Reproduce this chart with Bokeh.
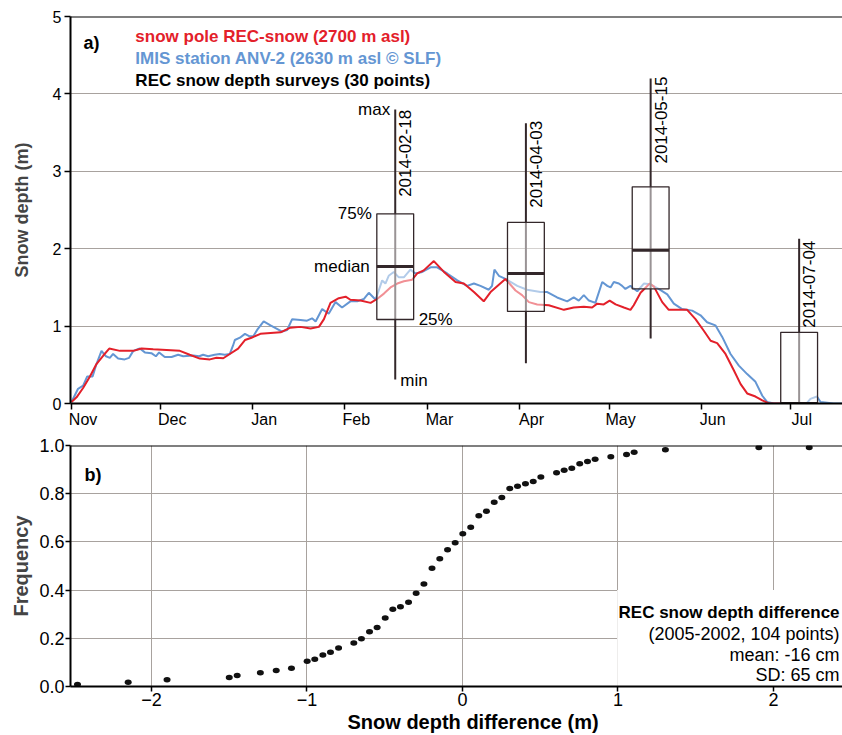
import math
import pandas as pd
from bokeh.plotting import figure
from bokeh.models import (Range1d, FixedTicker, Label, Span, NumeralTickFormatter,
                          LinearAxis, Title)
from bokeh.layouts import column
from bokeh.embed import file_html
from bokeh.resources import INLINE

FONT = "Liberation Sans"
DARK = "#33272a"
RED = "#e3202a"
BLUE = "#6496d3"
GRID = "#a8a29e"

# ---------------- data: panel a ----------------
season_start = "2013-11-01"
month_labels = ["Nov", "Dec", "Jan", "Feb", "Mar", "Apr", "May", "Jun", "Jul"]
month_starts = ["2013-11-01", "2013-12-01", "2014-01-01", "2014-02-01", "2014-03-01",
                "2014-04-01", "2014-05-01", "2014-06-01", "2014-07-01"]

# snow pole REC-snow (days since 2013-11-01, depth m)
red_day = [0, 1.7, 3.9, 6.2, 8.4, 10.7, 12.7, 16.3, 20.8, 23.6, 27.5, 32, 36.5, 39.8, 43.2,
           46.6, 48.8, 51.1, 53.3, 56.1, 58.4, 60.6, 63.6, 67, 70.4, 73.7, 77.1, 80.5, 83.3,
           85, 87.2, 90, 92.3, 93.9, 97.3, 100.7, 102.9, 105.2, 107.4, 109.7, 111.9, 114.7,
           116.4, 118.6, 122, 125.4, 129.3, 132.1, 135.5, 138.8, 141.1, 146.1, 149.5, 151.7,
           154, 156.8, 160.7, 165.8, 169.1, 172.5, 175.3, 177, 179.2, 181.2, 183.2, 186,
           188.2, 189.3, 191.6, 194.7, 196.1, 198.9, 201.1, 207.3, 210.1, 212.9, 215.2,
           217.4, 220.2, 223, 225.3, 227.5, 230.3, 232.6, 234.8, 243]
red_depth = [0.02, 0.08, 0.20, 0.35, 0.51, 0.62, 0.71, 0.68, 0.68, 0.71, 0.70, 0.69, 0.68,
             0.63, 0.58, 0.57, 0.59, 0.585, 0.64, 0.71, 0.82, 0.85, 0.90, 0.91, 0.92, 0.98,
             0.99, 0.97, 0.99, 1.09, 1.30, 1.36, 1.38, 1.34, 1.33, 1.30, 1.35, 1.42, 1.50,
             1.55, 1.58, 1.60, 1.68, 1.72, 1.84, 1.70, 1.57, 1.55, 1.44, 1.32, 1.44, 1.61,
             1.46, 1.40, 1.31, 1.28, 1.27, 1.21, 1.24, 1.25, 1.24, 1.29, 1.28, 1.33, 1.28,
             1.24, 1.21, 1.27, 1.43, 1.55, 1.51, 1.31, 1.21, 1.21, 1.09, 0.94, 0.81, 0.78,
             0.64, 0.43, 0.25, 0.13, 0.09, 0.04, 0.00, 0.00]

# IMIS station ANV-2
blue_day = [0, 2.2, 3.9, 5.3, 7.1, 8.4, 10.1, 11.6, 12.9, 14.0, 15.7, 17.9, 19.4, 20.8, 23,
            24.7, 26.9, 28.4, 29.5, 31.4, 33.7, 35.9, 37.6, 41, 43, 44.3, 46, 48.2, 49.9,
            51.6, 53.3, 54.4, 55, 56.7, 58.4, 59.8, 61.2, 62.5, 64.7, 67, 70.9, 72.6, 74.3,
            77.1, 79.3, 81, 82.2, 84.4, 86.6, 88.9, 91.1, 93.9, 96.2, 98.4, 100.1, 102.4,
            104.6, 105.7, 106.8, 108.5, 110.2, 111.9, 114.1, 115.8, 118.1, 120.9, 123.1,
            126.5, 129.9, 133.2, 135.5, 137.7, 140.5, 141.6, 142.4, 143.9, 146.1, 150.1,
            153.4, 157.9, 160.2, 163.5, 166.9, 169.1, 170.8, 172.5, 174.2, 176.4, 178.7,
            180.4, 181.5, 182.6, 184.3, 185.4, 186.5, 188.2, 190.5, 192.7, 194.9, 197.7,
            200.6, 202.8, 205.6, 209, 211.8, 214, 216.8, 219.1, 221.9, 224.7, 227.5, 230.3,
            232.6, 234.2, 236.5, 247.5, 248.8, 251, 252.2, 256.6, 260]
blue_depth = [0.02, 0.19, 0.23, 0.35, 0.35, 0.51, 0.68, 0.61, 0.59, 0.64, 0.58, 0.57, 0.59,
              0.68, 0.71, 0.66, 0.65, 0.61, 0.66, 0.60, 0.60, 0.63, 0.61, 0.62, 0.61, 0.63,
              0.61, 0.63, 0.64, 0.63, 0.64, 0.75, 0.82, 0.85, 0.90, 0.87, 0.87, 0.95, 1.06,
              1.01, 0.93, 0.95, 1.09, 1.08, 1.07, 1.10, 1.06, 1.22, 1.16, 1.31, 1.24, 1.32,
              1.32, 1.35, 1.43, 1.34, 1.59, 1.55, 1.65, 1.70, 1.63, 1.63, 1.73, 1.68, 1.70,
              1.76, 1.76, 1.68, 1.59, 1.52, 1.55, 1.52, 1.47, 1.52, 1.73, 1.65, 1.61, 1.52,
              1.47, 1.44, 1.44, 1.37, 1.32, 1.37, 1.33, 1.40, 1.33, 1.30, 1.57, 1.52, 1.50,
              1.57, 1.55, 1.52, 1.48, 1.52, 1.45, 1.55, 1.54, 1.48, 1.41, 1.29, 1.22, 1.20,
              1.14, 1.05, 1.01, 0.86, 0.64, 0.49, 0.38, 0.28, 0.10, 0.02, 0.0, 0.0, 0.06,
              0.09, 0.02, 0.0, 0.0]

# REC snow depth surveys (box plots)
survey_dates = ["2014-02-18", "2014-04-03", "2014-05-15", "2014-07-04"]
survey_min = [0.31, 0.52, 0.84, 0.0]
survey_q25 = [1.085, 1.19, 1.48, 0.0]
survey_median = [1.77, 1.68, 1.98, 0.0]
survey_q75 = [2.45, 2.34, 2.80, 0.92]
survey_max = [3.80, 3.62, 4.20, 2.13]

# ---------------- data: panel b ----------------
diff_values = [-2.476, -2.15, -1.90, -1.50, -1.449, -1.30, -1.198, -1.10, -0.999, -0.95,
               -0.898, -0.849, -0.797, -0.699, -0.65, -0.598, -0.549, -0.497, -0.448,
               -0.399, -0.347, -0.298, -0.248, -0.196, -0.146, -0.096, -0.047, 0.002, 0.053,
               0.105, 0.154, 0.204, 0.253, 0.304, 0.354, 0.405, 0.455, 0.504, 0.605, 0.654,
               0.703, 0.754, 0.804, 0.853, 0.954, 1.055, 1.104, 1.305, 1.906, 2.23]
freq_values = [0.008, 0.018, 0.028, 0.037, 0.046, 0.057, 0.066, 0.076, 0.105, 0.113, 0.131,
               0.142, 0.160, 0.180, 0.198, 0.227, 0.245, 0.284, 0.321, 0.331, 0.350, 0.387,
               0.425, 0.491, 0.530, 0.567, 0.596, 0.634, 0.661, 0.708, 0.727, 0.765, 0.784,
               0.822, 0.831, 0.841, 0.851, 0.869, 0.887, 0.897, 0.906, 0.924, 0.934, 0.943,
               0.953, 0.963, 0.972, 0.982, 0.992, 0.992]

# ---------------- derived positions ----------------
t0 = pd.Timestamp(season_start)
month_days = [(pd.Timestamp(d) - t0).days for d in month_starts]
survey_day = [(pd.Timestamp(d) - t0).days for d in survey_dates]

LEFT = 70

# ---------------- panel a ----------------
p1 = figure(width=842, height=430, x_range=Range1d(-0.34, 259.6), y_range=Range1d(0, 5),
            output_backend="svg", toolbar_location=None,
            min_border_left=LEFT, min_border_right=0, min_border_top=16, min_border_bottom=27)
p1.outline_line_color = None
p1.xgrid.visible = False
p1.ygrid.grid_line_color = GRID
p1.ygrid.grid_line_width = 1

p1.yaxis.ticker = FixedTicker(ticks=[0, 1, 2, 3, 4, 5])
p1.yaxis.axis_label = "Snow depth (m)"
p1.yaxis.axis_label_text_font = FONT
p1.yaxis.axis_label_text_font_style = "bold"
p1.yaxis.axis_label_text_font_size = "18px"
p1.yaxis.axis_label_standoff = 18
p1.yaxis.major_label_text_font = FONT
p1.yaxis.major_label_text_font_size = "16px"
p1.yaxis.major_label_standoff = 3
p1.xaxis.ticker = FixedTicker(ticks=month_days)
p1.xaxis.major_label_overrides = {d: "" for d in month_days}
p1.xaxis.major_label_text_font_size = "1px"
p1.xaxis.major_label_standoff = 0
for ax in (p1.xaxis[0], p1.yaxis[0]):
    ax.axis_line_width = 2
    ax.axis_line_color = "black"
    ax.major_tick_line_width = 1.5
    ax.major_tick_line_color = "black"
    ax.major_tick_out = 6
    ax.major_tick_in = 0
    ax.minor_tick_line_color = None
    ax.major_label_text_color = "black"

# month names, centred a few days after each month start
label_shift = 3.9
month_label_pos = [d + label_shift for d in month_days]
month_axis = LinearAxis(ticker=FixedTicker(ticks=month_label_pos),
                        major_label_overrides=dict(zip(month_label_pos, month_labels)),
                        axis_line_color=None, major_tick_line_color=None,
                        minor_tick_line_color=None, major_tick_out=0, major_tick_in=0,
                        major_label_standoff=1, major_label_text_font=FONT,
                        major_label_text_font_size="16px", major_label_text_color="black")
p1.add_layout(month_axis, "below")

p1.add_layout(Span(location=5, dimension="width", line_color="black", line_width=2))

p1.line(blue_day, blue_depth, line_color=BLUE, line_width=2)
p1.line(red_day, red_depth, line_color=RED, line_width=2)

half_w = 6.2
p1.segment(x0=survey_day, y0=survey_min, x1=survey_day, y1=survey_max,
           line_color=DARK, line_width=2)
p1.quad(left=[d - half_w for d in survey_day], right=[d + half_w for d in survey_day],
        bottom=survey_q25, top=survey_q75, fill_color="white", fill_alpha=0.5,
        line_color=DARK, line_width=1.3)
p1.segment(x0=[d - half_w for d in survey_day], y0=survey_median,
           x1=[d + half_w for d in survey_day], y1=survey_median,
           line_color=DARK, line_width=3)

date_label_y = [2.67, 2.53, 3.10, 0.98]
for d, yl, txt in zip(survey_day, date_label_y, survey_dates):
    p1.add_layout(Label(x=d, y=yl, x_offset=4, text=txt, angle=math.pi / 2,
                        text_align="left", text_baseline="top", text_font=FONT,
                        text_font_size="17px", text_color="black"))

# box plot legend on first box
b0 = survey_day[0]
ann = [
    ("max", b0, survey_max[0], -5, "right"),
    ("75%", b0 - half_w, survey_q75[0], -5, "right"),
    ("median", b0 - half_w, survey_median[0], -7, "right"),
    ("25%", b0 + half_w, survey_q25[0], 5, "left"),
    ("min", b0, survey_min[0] - 0.01, 5, "left"),
]
for txt, x, y, xo, al in ann:
    p1.add_layout(Label(x=x, y=y, x_offset=xo, text=txt, text_align=al,
                        text_baseline="middle", text_font=FONT, text_font_size="17px",
                        text_color="black"))

p1.add_layout(Label(x=4.0, y=4.658, text="a)", text_font=FONT, text_font_style="bold",
                    text_font_size="18px", text_baseline="alphabetic", text_color="black"))
legend_items = [("snow pole REC-snow (2700 m asl)", RED, 4.742),
                ("IMIS station ANV-2 (2630 m asl \u00a9 SLF)", BLUE, 4.451),
                ("REC snow depth surveys (30 points)", "black", 4.167)]
for txt, col, y in legend_items:
    p1.add_layout(Label(x=21.5, y=y, text=txt, text_font=FONT, text_font_style="bold",
                        text_font_size="17px", text_baseline="alphabetic", text_color=col))

# ---------------- panel b ----------------
p2 = figure(width=842, height=305, x_range=Range1d(-2.521, 2.444), y_range=Range1d(0, 1),
            output_backend="svg", toolbar_location=None,
            min_border_left=LEFT, min_border_right=0, min_border_top=15, min_border_bottom=49)
p2.outline_line_color = None
p2.xgrid.grid_line_color = GRID
p2.ygrid.grid_line_color = GRID
p2.xaxis.ticker = FixedTicker(ticks=[-2, -1, 0, 1, 2])
p2.xaxis.major_label_overrides = {-2: "\u22122", -1: "\u22121"}
p2.yaxis.ticker = FixedTicker(ticks=[0, 0.2, 0.4, 0.6, 0.8, 1.0])
p2.yaxis.formatter = NumeralTickFormatter(format="0.0")
p2.yaxis.axis_label = "Frequency"
p2.yaxis.axis_label_text_font = FONT
p2.yaxis.axis_label_text_font_style = "bold"
p2.yaxis.axis_label_text_font_size = "20px"
p2.yaxis.axis_label_standoff = 4
for ax in (p2.xaxis[0], p2.yaxis[0]):
    ax.axis_line_width = 2
    ax.axis_line_color = "black"
    ax.major_tick_line_width = 1.5
    ax.major_tick_line_color = "black"
    ax.major_tick_out = 5
    ax.major_tick_in = 0
    ax.minor_tick_line_color = None
    ax.major_label_text_font = FONT
    ax.major_label_text_font_size = "18px"
    ax.major_label_text_color = "black"
    ax.major_label_standoff = 1

p2.add_layout(Title(text="Snow depth difference (m)", align="left", offset=277, standoff=0,
                    text_font=FONT, text_font_style="bold", text_font_size="20px",
                    text_color="black"), "below")

p2.add_layout(Span(location=1, dimension="width", line_color="black", line_width=2))

p2.quad(left=[0.995], right=[2.6], bottom=[0.0], top=[0.4], fill_color="white",
        line_color=None)
p2.ellipse(x=diff_values, y=freq_values, width=7, height=5.5, width_units="screen",
           height_units="screen", fill_color="#111111", line_color=None)

p2.add_layout(Label(x=-2.431, y=0.876, text="b)", text_font=FONT, text_font_style="bold",
                    text_font_size="18px", text_baseline="alphabetic", text_color="black"))
p2.add_layout(Label(x=2.425, y=0.306, text="REC snow depth difference", text_align="right",
                    text_font=FONT, text_font_style="bold", text_font_size="17px",
                    text_baseline="alphabetic", text_color="black"))
box_lines = [("(2005-2002, 104 points)", 0.219), ("mean: -16 cm", 0.132),
             ("SD: 65 cm", 0.046)]
for txt, y in box_lines:
    p2.add_layout(Label(x=2.425, y=y, text=txt, text_align="right", text_font=FONT,
                        text_font_size="18px", text_baseline="alphabetic",
                        text_color="black"))

layout = column(p1, p2, spacing=0)
open("out.html", "w").write(file_html(layout, INLINE))
